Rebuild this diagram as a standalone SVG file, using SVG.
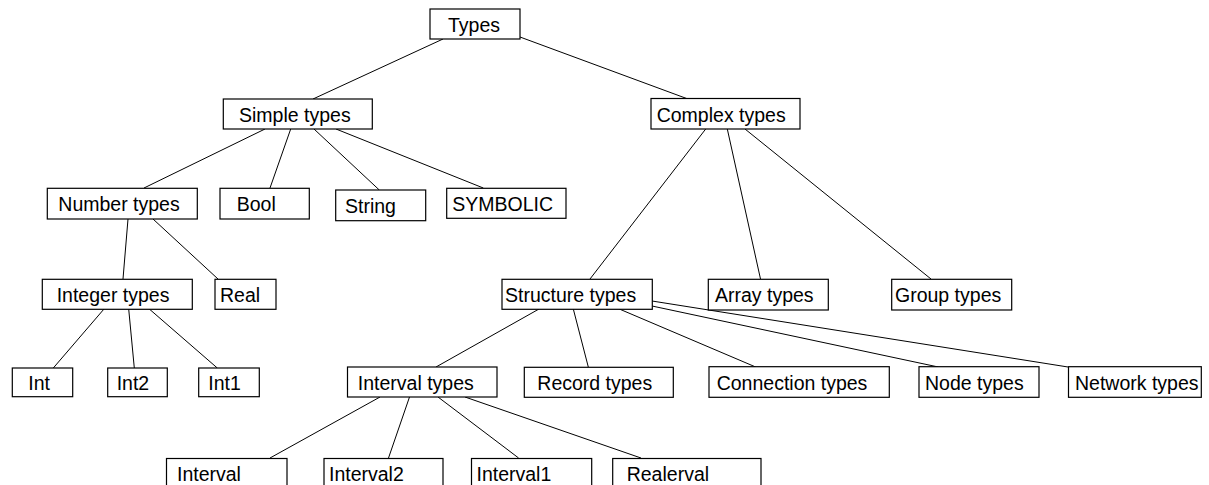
<svg xmlns="http://www.w3.org/2000/svg" width="1209" height="485" viewBox="0 0 1209 485">
<style>
rect.b{fill:#fff;stroke:#000;stroke-width:1.2}
text{font-family:"Liberation Sans",Arial,sans-serif;font-size:19.5px;fill:#000}
#connectors line{stroke:#000;stroke-width:1}
</style>
<rect x="0" y="0" width="1209" height="485" fill="#fff"/>
<g id="connectors">
<line x1="443" y1="39" x2="313" y2="99"/>
<line x1="520" y1="37" x2="688" y2="99"/>
<line x1="265" y1="129" x2="144" y2="188"/>
<line x1="290.7" y1="129" x2="270" y2="188"/>
<line x1="314" y1="129" x2="379.3" y2="190"/>
<line x1="336" y1="129" x2="483.3" y2="188"/>
<line x1="128" y1="219" x2="123" y2="279"/>
<line x1="153" y1="219" x2="218" y2="279"/>
<line x1="104" y1="309" x2="53.3" y2="368"/>
<line x1="128.7" y1="309" x2="134.3" y2="368"/>
<line x1="149.3" y1="309" x2="217.3" y2="368"/>
<line x1="705.7" y1="129" x2="590" y2="279"/>
<line x1="727.3" y1="129" x2="760.5" y2="279"/>
<line x1="745" y1="129" x2="931" y2="279"/>
<line x1="539" y1="309" x2="436" y2="367"/>
<line x1="573.3" y1="309" x2="588.3" y2="367"/>
<line x1="619.3" y1="309" x2="755.7" y2="367"/>
<line x1="652" y1="306" x2="938.3" y2="367"/>
<line x1="652" y1="301" x2="1068" y2="367"/>
<line x1="380" y1="397" x2="270" y2="458"/>
<line x1="409.5" y1="397" x2="388.5" y2="458"/>
<line x1="438" y1="397" x2="518.6" y2="458"/>
<line x1="465" y1="397" x2="641" y2="458"/>
</g>
<g id="n-types"><rect class="b" x="430" y="9" width="90" height="30"/><text x="448" y="31.5">Types</text></g>
<g id="n-simple"><rect class="b" x="223.3" y="99" width="149" height="30"/><text x="239" y="121.5">Simple types</text></g>
<g id="n-complex"><rect class="b" x="651" y="98.5" width="149" height="30.5"/><text x="656.7" y="121.5">Complex types</text></g>
<g id="n-number"><rect class="b" x="47.3" y="188.3" width="150" height="30.7"/><text x="58.3" y="210.5">Number types</text></g>
<g id="n-bool"><rect class="b" x="220" y="188.3" width="89.3" height="30.7"/><text x="236.7" y="210.5">Bool</text></g>
<g id="n-string"><rect class="b" x="335.7" y="190" width="90" height="30.7"/><text x="345" y="212.5">String</text></g>
<g id="n-symbolic"><rect class="b" x="446.7" y="188.3" width="119.3" height="30"/><text x="452.3" y="210.5">SYMBOLIC</text></g>
<g id="n-integer"><rect class="b" x="42.3" y="279.3" width="150" height="30"/><text x="56.7" y="301.5">Integer types</text></g>
<g id="n-real"><rect class="b" x="215" y="279.3" width="61" height="30"/><text x="220" y="301.5">Real</text></g>
<g id="n-structure"><rect class="b" x="502" y="279.3" width="150.3" height="30"/><text x="505" y="301.5">Structure types</text></g>
<g id="n-array"><rect class="b" x="708.3" y="279.3" width="120" height="30.7"/><text x="715" y="301.5">Array types</text></g>
<g id="n-group"><rect class="b" x="891.7" y="279.3" width="120" height="30.7"/><text x="895" y="301.5">Group types</text></g>
<g id="n-int"><rect class="b" x="12.3" y="368" width="60.4" height="28.7"/><text x="28.3" y="390">Int</text></g>
<g id="n-int2"><rect class="b" x="107.7" y="368" width="59.6" height="28.7"/><text x="116.7" y="390">Int2</text></g>
<g id="n-int1"><rect class="b" x="198.7" y="368" width="60.6" height="28.7"/><text x="208.3" y="390">Int1</text></g>
<g id="n-interval-types"><rect class="b" x="347.5" y="367" width="149.5" height="30"/><text x="357.8" y="389.5">Interval types</text></g>
<g id="n-record"><rect class="b" x="524.3" y="367.3" width="149" height="30"/><text x="537.3" y="389.5">Record types</text></g>
<g id="n-connection"><rect class="b" x="709" y="366.7" width="180.3" height="30.6"/><text x="716.7" y="389.5">Connection types</text></g>
<g id="n-node"><rect class="b" x="919" y="366.7" width="120" height="30.6"/><text x="925" y="389.5">Node types</text></g>
<g id="n-network"><rect class="b" x="1068.5" y="366.7" width="132.8" height="30.6"/><text x="1075" y="389.5">Network types</text></g>
<g id="n-interval"><rect class="b" x="166.5" y="458.5" width="120.5" height="40"/><text x="177" y="480.5">Interval</text></g>
<g id="n-interval2"><rect class="b" x="324" y="458.5" width="119" height="40"/><text x="329" y="480.5">Interval2</text></g>
<g id="n-interval1"><rect class="b" x="471.5" y="458.5" width="120.2" height="40"/><text x="476.5" y="480.5">Interval1</text></g>
<g id="n-realerval"><rect class="b" x="612.7" y="458.5" width="148.3" height="40"/><text x="626.7" y="480.5">Realerval</text></g>
</svg>
